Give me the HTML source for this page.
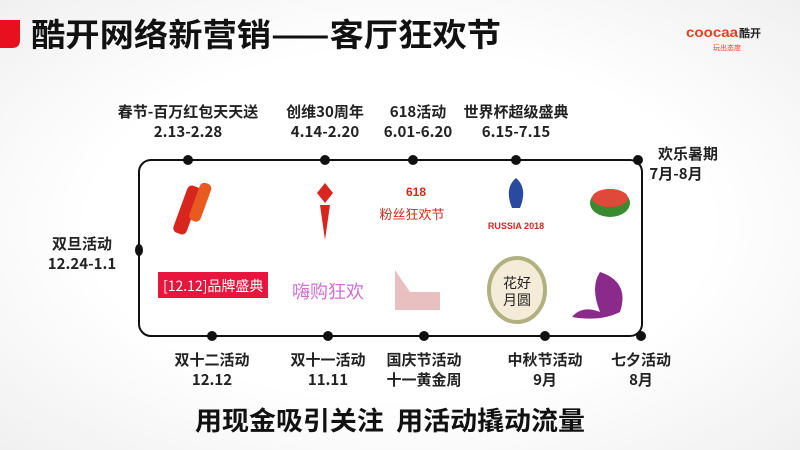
<!DOCTYPE html>
<html><head><meta charset="utf-8"><style>
body{margin:0;width:800px;height:450px;overflow:hidden;background:radial-gradient(ellipse at center,#fff 55%,#f0f0f0 100%);font-family:"Liberation Sans","Noto Sans CJK SC",sans-serif}
</style></head><body>
<svg width="800" height="450" viewBox="0 0 800 450" xmlns="http://www.w3.org/2000/svg" style="position:absolute;left:0;top:0">
<path d="M0 20 H20 V40 Q20 48 12 48 H0 Z" fill="#e8101e"/>
<text x="31" y="46" font-size="32" font-weight="bold" fill="#111" font-family="Noto Sans CJK SC,sans-serif" textLength="470" lengthAdjust="spacingAndGlyphs">酷开网络新营销——客厅狂欢节</text>
<text x="686" y="37" font-size="14" font-weight="bold" fill="#e8401e" textLength="52" lengthAdjust="spacingAndGlyphs">coocaa</text>
<text x="739" y="37" font-size="11" font-weight="bold" fill="#222" font-family="Noto Sans CJK SC,sans-serif">酷开</text>
<text x="713" y="50" font-size="7" fill="#e8401e" font-family="Noto Sans CJK SC,sans-serif">玩出态度</text>
<rect x="139" y="160" width="503" height="176" rx="12" fill="none" stroke="#111" stroke-width="2"/>
<g fill="#111">
<circle cx="188" cy="160" r="5"/><circle cx="325" cy="160" r="5"/><circle cx="413" cy="160" r="5"/><circle cx="516" cy="160" r="5"/><circle cx="638" cy="160" r="5"/>
<ellipse cx="139" cy="250" rx="4" ry="6"/>
<circle cx="212" cy="336" r="5"/><circle cx="328" cy="336" r="5"/><circle cx="424" cy="336" r="5"/><circle cx="545" cy="336" r="5"/><circle cx="641" cy="336" r="5"/>
</g>
<g font-family="Noto Sans CJK SC,sans-serif" font-weight="bold" font-size="15" fill="#222" text-anchor="middle">
<text x="188" y="117">春节-百万红包天天送</text><text x="188" y="137">2.13-2.28</text>
<text x="325" y="117">创维30周年</text><text x="325" y="137">4.14-2.20</text>
<text x="418" y="117">618活动</text><text x="418" y="137">6.01-6.20</text>
<text x="516" y="117">世界杯超级盛典</text><text x="516" y="137">6.15-7.15</text>
<text x="688" y="159">欢乐暑期</text><text x="676" y="179">7月-8月</text>
<text x="82" y="249">双旦活动</text><text x="82" y="269">12.24-1.1</text>
<text x="212" y="365">双十二活动</text><text x="212" y="385">12.12</text>
<text x="328" y="365">双十一活动</text><text x="328" y="385">11.11</text>
<text x="424" y="365">国庆节活动</text><text x="424" y="385">十一黄金周</text>
<text x="545" y="365">中秋节活动</text><text x="545" y="385">9月</text>
<text x="641" y="365">七夕活动</text><text x="641" y="385">8月</text>
</g>
<text x="195" y="430" font-size="26" font-weight="bold" fill="#111" font-family="Noto Sans CJK SC,sans-serif" textLength="390" lengthAdjust="spacingAndGlyphs">用现金吸引关注&#160;&#160;用活动撬动流量</text>
<g fill="#d8261e">
<rect x="180" y="185" width="14" height="50" rx="5" transform="rotate(20 187 210)"/>
<rect x="195" y="182" width="12" height="40" rx="5" transform="rotate(20 200 200)" fill="#e85a20"/>
<path d="M325 183 l8 10 -8 10 -8 -10z M320 205 l5 35 5 -35z"/>
<text x="416" y="196" font-size="12" text-anchor="middle" font-weight="bold">618</text>
<text x="412" y="219" font-size="13" text-anchor="middle" font-family="Noto Sans CJK SC,sans-serif">粉丝狂欢节</text>
<path d="M516 178 q12 10 4 30 h-8 q-8 -20 4 -30z" fill="#2a4aa0"/>
<text x="516" y="229" font-size="9" text-anchor="middle" font-weight="bold">RUSSIA 2018</text>
<ellipse cx="610" cy="203" rx="20" ry="14" fill="#3a8a30"/><ellipse cx="610" cy="198" rx="18" ry="9" fill="#e0483a"/>
<rect x="158" y="272" width="110" height="26" fill="#e8153f"/>
<text x="163" y="291" font-size="14" fill="#fff" font-family="Noto Sans CJK SC,sans-serif">[12.12]品牌盛典</text>
<text x="328" y="298" font-size="18" text-anchor="middle" fill="#d070d0" font-family="Noto Sans CJK SC,sans-serif">嗨购狂欢</text>
<path d="M395 270 v40 h45 v-18 h-30z" fill="#e8c0c0"/>
<ellipse cx="517" cy="290" rx="28" ry="32" fill="#f4ecd8" stroke="#b0b080" stroke-width="4"/>
<text x="517" y="288" font-size="14" text-anchor="middle" fill="#222" font-family="Noto Sans CJK SC,sans-serif">花好</text>
<text x="517" y="305" font-size="14" text-anchor="middle" fill="#222" font-family="Noto Sans CJK SC,sans-serif">月圆</text>
<path d="M600 272 q30 10 20 40 q-20 10 -48 5 q10 -12 28 -5 q-10 -25 0 -40z" fill="#8a2a8a"/>
</g>
</svg>
</body></html>
